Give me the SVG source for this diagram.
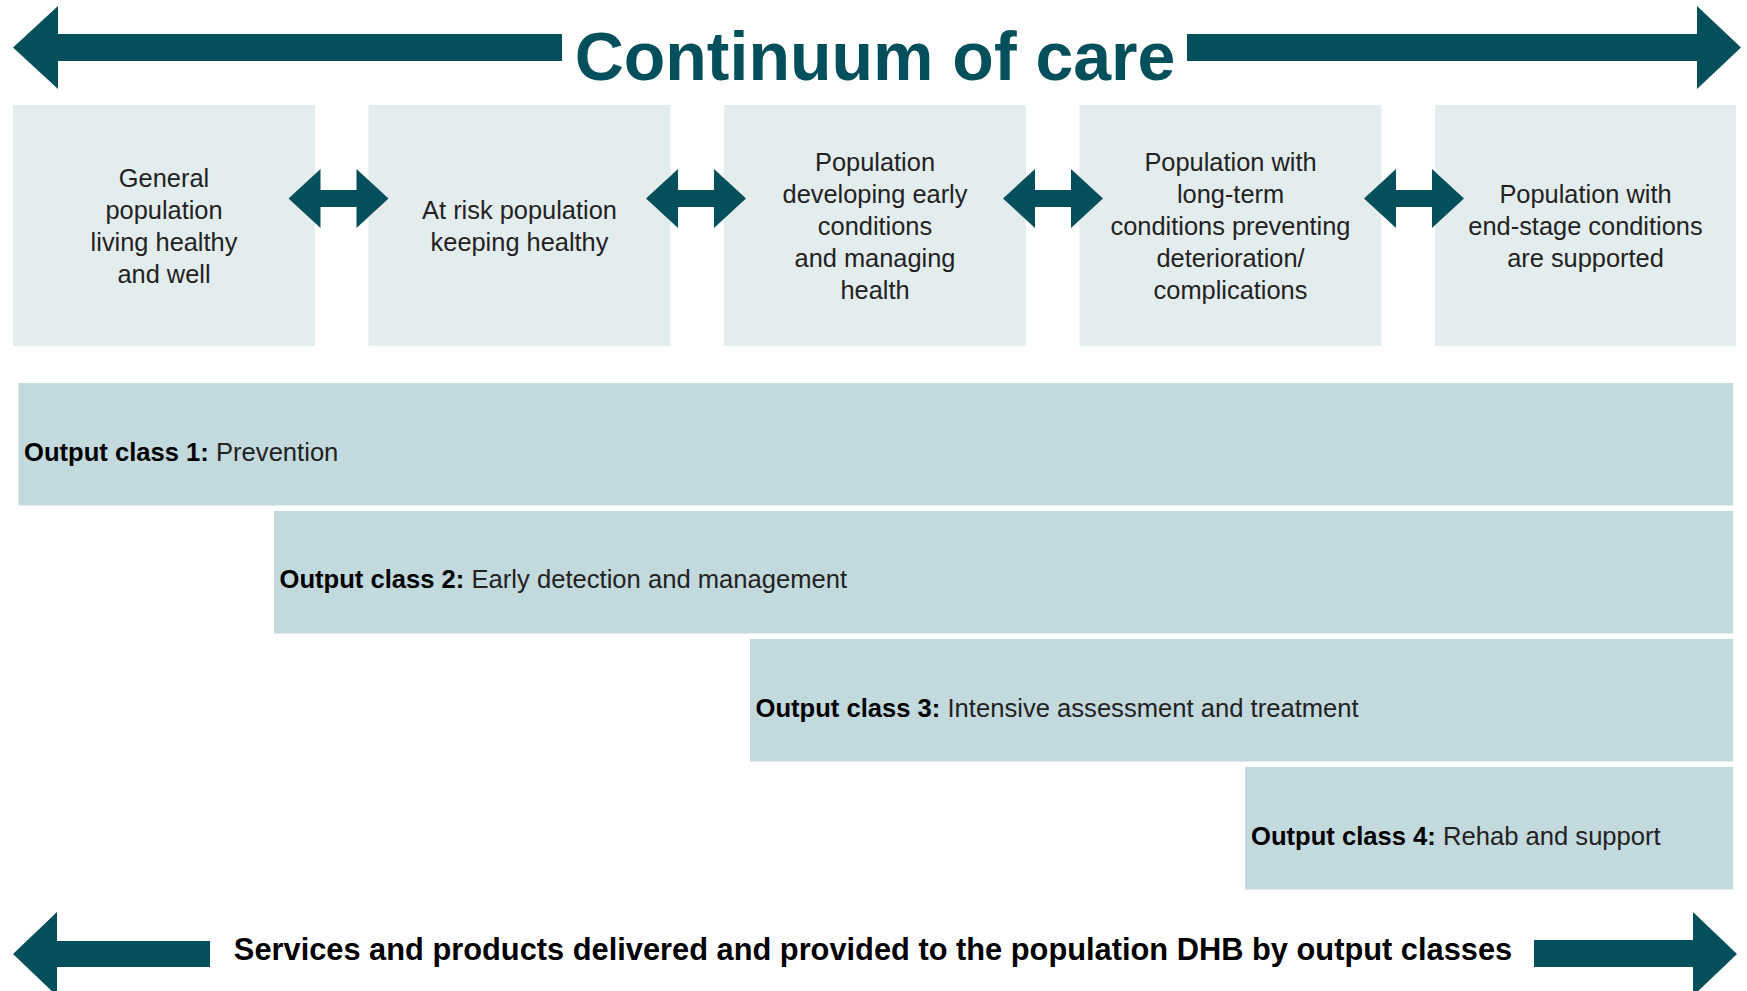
<svg xmlns="http://www.w3.org/2000/svg" width="1747" height="991" viewBox="0 0 1747 991">
  <style>
    .teal { fill: #034f5b; }
    .stage { fill: #e4edee; }
    .band { fill: #c2d9dd; }
    .title { font-family: "Liberation Sans", Arial, sans-serif; font-weight: bold; font-size: 68px; fill: #034f5b; }
    .stage-label { font-family: "Liberation Sans", Arial, sans-serif; font-size: 25.4px; fill: #222222; text-anchor: middle; }
    .band-label { font-family: "Liberation Sans", Arial, sans-serif; font-size: 25.6px; fill: #222222; }
    .band-label .strong { font-weight: bold; fill: #000000; }
    .footer { font-family: "Liberation Sans", Arial, sans-serif; font-weight: bold; font-size: 30.8px; fill: #000000; text-anchor: middle; }
  </style>
  <defs>
    <!-- two-headed arrow linking neighbouring stages, centred on 0,0 -->
    <path id="link" d="M-50,0 L-18,-29.5 L-18,-8.5 L18,-8.5 L18,-29.5 L50,0 L18,29.5 L18,8.5 L-18,8.5 L-18,29.5 Z"/>
  </defs>

  <rect width="1747" height="991" fill="#ffffff"/>

  <!-- heading with arrows on either side -->
  <g id="heading">
    <path class="teal" d="M13,47.5 L58,6 L58,34 L562,34 L562,61 L58,61 L58,89 Z"/>
    <path class="teal" d="M1741,47.5 L1697,6 L1697,34 L1187,34 L1187,61 L1697,61 L1697,89 Z"/>
    <text class="title" x="875" y="80" text-anchor="middle">Continuum of care</text>
  </g>

  <!-- stages of the continuum -->
  <g id="stage-general">
    <rect class="stage" x="13" y="105" width="302" height="241"/>
    <text class="stage-label"><tspan x="164" y="187">General</tspan><tspan x="164" y="219">population</tspan><tspan x="164" y="251">living healthy</tspan><tspan x="164" y="283">and well</tspan></text>
  </g>
  <g id="stage-at-risk">
    <rect class="stage" x="368.5" y="105" width="302" height="241"/>
    <text class="stage-label"><tspan x="519.5" y="219">At risk population</tspan><tspan x="519.5" y="251">keeping healthy</tspan></text>
  </g>
  <g id="stage-early">
    <rect class="stage" x="724" y="105" width="302" height="241"/>
    <text class="stage-label"><tspan x="875" y="171">Population</tspan><tspan x="875" y="203">developing early</tspan><tspan x="875" y="235">conditions</tspan><tspan x="875" y="267">and managing</tspan><tspan x="875" y="299">health</tspan></text>
  </g>
  <g id="stage-long-term">
    <rect class="stage" x="1079.5" y="105" width="302" height="241"/>
    <text class="stage-label"><tspan x="1230.5" y="171">Population with</tspan><tspan x="1230.5" y="203">long-term</tspan><tspan x="1230.5" y="235">conditions preventing</tspan><tspan x="1230.5" y="267">deterioration/</tspan><tspan x="1230.5" y="299">complications</tspan></text>
  </g>
  <g id="stage-end">
    <rect class="stage" x="1435" y="105" width="301" height="241"/>
    <text class="stage-label"><tspan x="1585.5" y="203">Population with</tspan><tspan x="1585.5" y="235">end-stage conditions</tspan><tspan x="1585.5" y="267">are supported</tspan></text>
  </g>

  <!-- links between stages -->
  <g id="connectors" class="teal">
    <use href="#link" x="338.5" y="198.5"/>
    <use href="#link" x="696" y="198.5"/>
    <use href="#link" x="1053" y="198.5"/>
    <use href="#link" x="1414" y="198.5"/>
  </g>

  <!-- output classes -->
  <g id="output-class-1">
    <rect class="band" x="18.5" y="383" width="1714.5" height="122.5"/>
    <text class="band-label" x="24" y="461"><tspan class="strong">Output class 1:</tspan> Prevention</text>
  </g>
  <g id="output-class-2">
    <rect class="band" x="274" y="511" width="1459" height="122.5"/>
    <text class="band-label" x="279.5" y="588"><tspan class="strong">Output class 2:</tspan> Early detection and management</text>
  </g>
  <g id="output-class-3">
    <rect class="band" x="750" y="639" width="983" height="122.5"/>
    <text class="band-label" x="755.5" y="717"><tspan class="strong">Output class 3:</tspan> Intensive assessment and treatment</text>
  </g>
  <g id="output-class-4">
    <rect class="band" x="1245" y="767" width="488" height="122.5"/>
    <text class="band-label" x="1251" y="845"><tspan class="strong">Output class 4:</tspan> Rehab and support</text>
  </g>

  <!-- footer with arrows on either side -->
  <g id="footer">
    <path class="teal" d="M13,954 L57,912 L57,941 L210,941 L210,967 L57,967 L57,996 Z"/>
    <path class="teal" d="M1737,954 L1693,912 L1693,940 L1534,940 L1534,967 L1693,967 L1693,996 Z"/>
    <text class="footer" x="873" y="960">Services and products delivered and provided to the population DHB by output classes</text>
  </g>
</svg>
